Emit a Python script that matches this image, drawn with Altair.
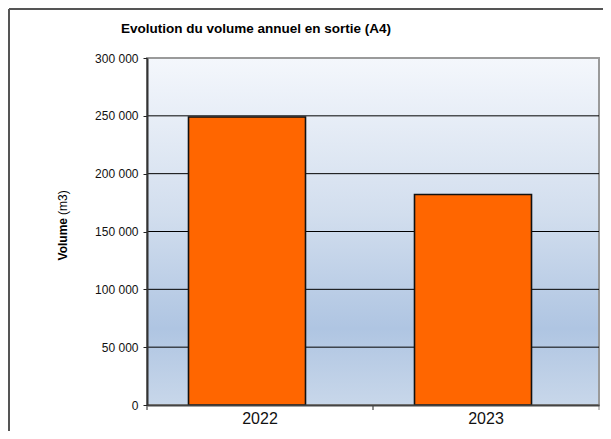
import altair as alt
import pandas as pd

years = ["2022", "2023"]
volumes = [249000, 182000]
y_ticks = [0, 50000, 100000, 150000, 200000, 250000, 300000]
grid_values = [50000, 100000, 150000, 200000, 250000]
title_text = "Evolution du volume annuel en sortie (A4)"
ytitle_bold = "Volume"
ytitle_normal = "(m3)"

df = pd.DataFrame({"year": years, "volume": volumes})
grid_df = pd.DataFrame({"volume": grid_values})
one = pd.DataFrame({"d": [0]})

W, H = 452, 347
FONT = "Liberation Sans"

x_scale = alt.Scale(domain=years, paddingInner=0, paddingOuter=0)
y_scale = alt.Scale(domain=[0, 300000], nice=False)

x_axis = alt.Axis(labelAngle=0, ticks=False, labelFontSize=16, labelFont=FONT,
                  labelColor="#111111", labelPadding=5, domainColor="#444444",
                  domainWidth=2, grid=False, zindex=1)
y_axis = alt.Axis(values=y_ticks, grid=False, tickSize=4, tickColor="#222222",
                  labelFontSize=12, labelFont=FONT, labelColor="#111111",
                  labelPadding=5, domainColor="#333333", domainWidth=2, zindex=1,
                  labelExpr="replace(format(datum.value, ','), regexp(',', 'g'), ' ')")

gradient = {
    "gradient": "linear", "x1": 0, "y1": 0, "x2": 0, "y2": 1,
    "stops": [
        {"offset": 0, "color": "#F4F7FC"},
        {"offset": 0.45, "color": "#D2DEEE"},
        {"offset": 0.78, "color": "#AFC5E2"},
        {"offset": 1, "color": "#C8D7EA"},
    ],
}

bg = alt.Chart(one).mark_rect(fill=gradient, stroke="#9A9A9A", strokeWidth=2).encode(
    x=alt.value(0), x2=alt.value(W), y=alt.value(0), y2=alt.value(H)
)

grid = alt.Chart(grid_df).mark_rule(color="#000000", strokeWidth=1).encode(
    y=alt.Y("volume:Q", scale=y_scale, title=None, axis=y_axis),
    x=alt.value(0), x2=alt.value(W),
)

bars = alt.Chart(df).mark_bar(
    color="#FF6600", stroke="#111111", strokeWidth=1.6, size=117, xOffset=-13
).encode(
    x=alt.X("year:N", scale=x_scale, title=None, axis=x_axis),
    y=alt.Y("volume:Q", scale=y_scale, title=None, axis=y_axis),
)

xticks = alt.Chart(df).mark_rule(color="#222222", strokeWidth=1).encode(
    x=alt.X("year:N", scale=x_scale, bandPosition=0, title=None, axis=x_axis),
    y=alt.value(H), y2=alt.value(H + 5),
)
xtick_end = alt.Chart(one).mark_rule(color="#888888", strokeWidth=1).encode(
    x=alt.value(W), y=alt.value(H), y2=alt.value(H + 5),
)

title = alt.Chart(one).mark_text(
    text=title_text, font=FONT, fontSize=13.5, fontWeight="bold", color="#000000",
    align="center", baseline="middle"
).encode(x=alt.value(109), y=alt.value(-29))

yt_bold = alt.Chart(one).mark_text(
    text=ytitle_bold, font=FONT, fontSize=12, fontWeight="bold", color="#000000",
    align="right", baseline="middle", angle=270
).encode(x=alt.value(-84), y=alt.value(160))
yt_norm = alt.Chart(one).mark_text(
    text=ytitle_normal, font=FONT, fontSize=12, color="#000000",
    align="left", baseline="middle", angle=270
).encode(x=alt.value(-84), y=alt.value(157))

border_left = alt.Chart(one).mark_rule(color="#555555", strokeWidth=2).encode(
    x=alt.value(-138), y=alt.value(-49), y2=alt.value(380)
)
border_top = alt.Chart(one).mark_rule(color="#555555", strokeWidth=2).encode(
    x=alt.value(-138), x2=alt.value(456), y=alt.value(-49)
)

chart = alt.layer(
    bg, grid, bars, xticks, xtick_end, title, yt_bold, yt_norm, border_left, border_top
).properties(
    width=W, height=H,
    autosize=alt.AutoSizeParams(type="none"),
    padding={"left": 139, "top": 50, "right": 4, "bottom": 26},
    background="#FFFFFF",
).configure_view(stroke=None)

chart.save("out.html", embed_options={"renderer": "svg", "actions": False})
